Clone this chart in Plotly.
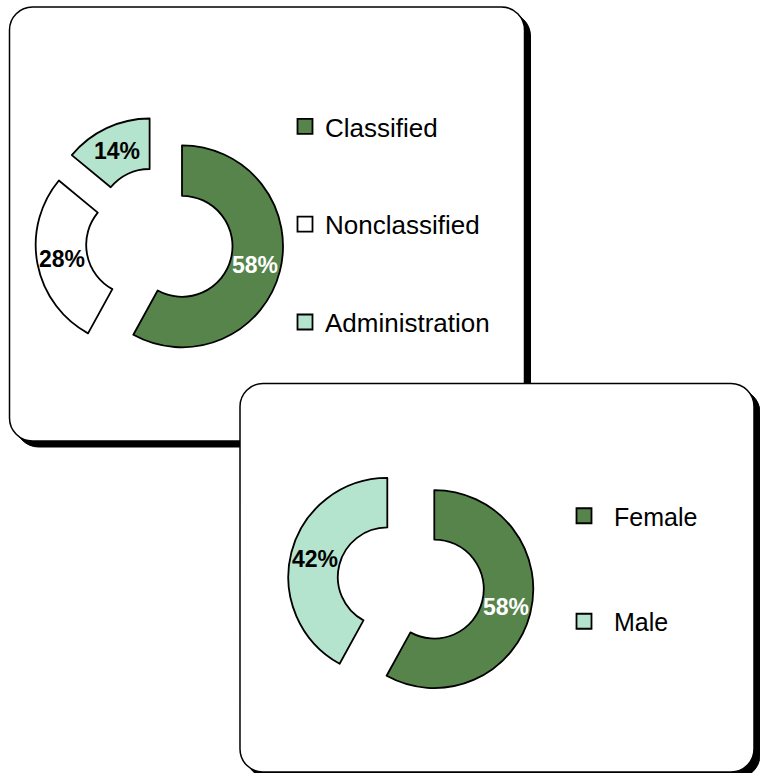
import math
import plotly.graph_objects as go

# ---------------- data ----------------
staff_labels = ["Classified", "Nonclassified", "Administration"]
staff_values = [58, 28, 14]
gender_labels = ["Female", "Male"]
gender_values = [58, 42]

DARK = "#56844B"
LIGHT = "#B4E3CE"
WHITE = "#FFFFFF"
staff_colors = [DARK, WHITE, LIGHT]
staff_text_colors = ["white", "black", "black"]
gender_colors = [DARK, LIGHT]
gender_text_colors = ["white", "black"]

W, H = 760, 773
FONT = "Liberation Sans, Arial, sans-serif"


def px(x):
    return x / W


def py(y):
    return 1 - y / H


def rounded_rect(x0, y0, x1, y1, r):
    k = 0.5523 * r
    pts = [
        f"M {px(x0 + r)} {py(y0)}",
        f"L {px(x1 - r)} {py(y0)}",
        f"C {px(x1 - r + k)} {py(y0)} {px(x1)} {py(y0 + r - k)} {px(x1)} {py(y0 + r)}",
        f"L {px(x1)} {py(y1 - r)}",
        f"C {px(x1)} {py(y1 - r + k)} {px(x1 - r + k)} {py(y1)} {px(x1 - r)} {py(y1)}",
        f"L {px(x0 + r)} {py(y1)}",
        f"C {px(x0 + r - k)} {py(y1)} {px(x0)} {py(y1 - r + k)} {px(x0)} {py(y1 - r)}",
        f"L {px(x0)} {py(y0 + r)}",
        f"C {px(x0)} {py(y0 + r - k)} {px(x0 + r - k)} {py(y0)} {px(x0 + r)} {py(y0)}",
        "Z",
    ]
    return " ".join(pts)


fig = go.Figure()
annotations = []


def add_donut(labels, values, colors, text_colors, cx, cy, radius, pull, hole):
    half = radius * (1 + pull)
    fig.add_trace(go.Pie(
        labels=labels, values=values, sort=False,
        direction="clockwise", rotation=0, hole=hole,
        pull=[pull] * len(values),
        marker=dict(colors=colors, line=dict(color="black", width=1.8)),
        textinfo="none",
        domain=dict(x=[px(cx - half), px(cx + half)], y=[py(cy + half), py(cy - half)]),
        showlegend=False, hoverinfo="label+percent",
    ))
    # percentage labels at the middle of each (pulled) ring segment
    total = sum(values)
    start = 0.0
    for v, tc in zip(values, text_colors):
        mid = math.radians((start + v / 2) / total * 360)
        dist = radius * pull + radius * (1 + hole) / 2
        annotations.append(dict(
            x=px(cx + dist * math.sin(mid)), y=py(cy - dist * math.cos(mid)),
            xref="paper", yref="paper", showarrow=False,
            xanchor="center", yanchor="middle",
            text=f"{round(v / total * 100)}%",
            font=dict(family=FONT, size=23, color=tc, weight="bold"),
        ))
        start += v


add_donut(staff_labels, staff_values, staff_colors, staff_text_colors,
          159.5, 240.5, 101, 0.23, 0.5)
add_donut(gender_labels, gender_values, gender_colors, gender_text_colors,
          410.8, 583, 99, 0.245, 0.5)

# ---- legend entries (one per category) ----
for lab, col in zip(staff_labels, staff_colors):
    fig.add_trace(go.Scatter(
        x=[None], y=[None], mode="markers", name=lab, legend="legend",
        legendgroup=lab,
        marker=dict(symbol="square", size=15, color=col, line=dict(color="black", width=1.8)),
    ))
for lab, col in zip(gender_labels, gender_colors):
    fig.add_trace(go.Scatter(
        x=[None], y=[None], mode="markers", name=lab, legend="legend2",
        legendgroup=lab,
        marker=dict(symbol="square", size=15, color=col, line=dict(color="black", width=1.8)),
    ))

# ---- panels with drop shadows ----
shapes = []
p1 = (9.5, 7, 524.5, 441)
p2 = (240, 383.5, 754, 772)
off = 6
for (x0, y0, x1, y1) in (p1, p2):
    shapes.append(dict(type="path", xref="paper", yref="paper", layer="below",
                       path=rounded_rect(x0 + off, y0 + off, x1 + off, y1 + off, 23),
                       fillcolor="black", line=dict(color="black", width=1)))
    shapes.append(dict(type="path", xref="paper", yref="paper", layer="below",
                       path=rounded_rect(x0, y0, x1, y1, 23),
                       fillcolor="white", line=dict(color="black", width=1.5)))

fig.update_layout(
    width=W, height=H,
    margin=dict(l=0, r=0, t=0, b=0),
    paper_bgcolor="white", plot_bgcolor="rgba(0,0,0,0)",
    font=dict(family=FONT, color="black"),
    shapes=shapes,
    annotations=annotations,
    xaxis=dict(visible=False), yaxis=dict(visible=False),
    legend=dict(x=px(285), y=py(103), xanchor="left", yanchor="top",
                bgcolor="rgba(0,0,0,0)", font=dict(family=FONT, size=26),
                tracegroupgap=61, itemclick=False, itemdoubleclick=False),
    legend2=dict(x=px(554), y=py(493), xanchor="left", yanchor="top",
                 bgcolor="rgba(0,0,0,0)", font=dict(family=FONT, size=25),
                 tracegroupgap=70, itemwidth=50, itemclick=False, itemdoubleclick=False),
)

fig.write_html(
    "out.html",
    config={"displayModeBar": False},
    post_script="document.body.style.margin='0';document.body.style.overflow='hidden';",
)
